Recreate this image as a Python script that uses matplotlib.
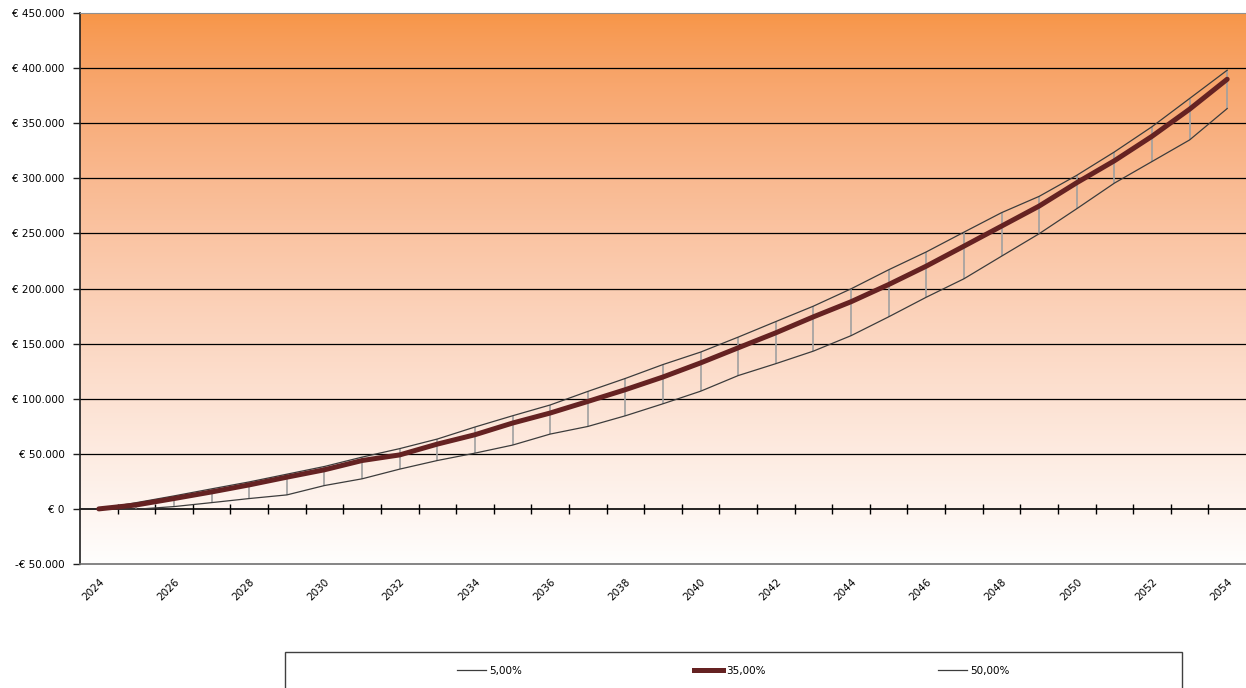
import numpy as np
import matplotlib.pyplot as plt
from matplotlib.lines import Line2D
from matplotlib.patches import Rectangle
from matplotlib.ticker import FuncFormatter

years = list(range(2024, 2055))

# vermogen per scenario (euro)
r05 = [0, -300, 2100, 5700, 9400, 12700, 21200, 27300, 36100, 43900,
       50600, 57900, 67900, 74800, 84500, 95400, 106800, 121000, 131800, 143200,
       157200, 174300, 192100, 208800, 229300, 249700, 272400, 295600, 315200, 334800,
       363300]
r35 = [0, 3600, 9400, 15400, 21800, 28800, 35500, 43900, 49000, 58800,
       67300, 77900, 87000, 97500, 108200, 119700, 132500, 146200, 159800, 174300,
       188000, 203600, 220300, 238400, 256600, 274800, 296000, 315900, 338100, 362700,
       389900]
r50 = [0, 5700, 11800, 18200, 24500, 31500, 38500, 47000, 54700, 63400,
       74300, 84500, 94300, 106600, 118400, 131000, 142300, 155900, 170000, 184000,
       199700, 217000, 233200, 251100, 268800, 283600, 302700, 323900, 346800, 372400,
       398100]
labels = ['5,00%', '35,00%', '50,00%']

plt.rcParams['font.family'] = 'DejaVu Sans'

fig = plt.figure(figsize=(12.46, 6.88), dpi=100)
ax = fig.add_axes([80/1246, 1-564/688, 1-80/1246, (564-13)/688])

n = len(years)
x = np.arange(n)
ymin, ymax = -50000, 450000

# oranje naar wit verloop (blauw loopt iets sneller op -> zalmtint)
t = np.linspace(0, 1, 256)
top = np.array([247, 150, 70]) / 255
bot = np.array([255, 254, 253]) / 255
expo = np.array([1.0, 0.9, 0.75])
grad = top + (bot - top) * t[:, None] ** expo
grad = np.repeat(grad[:, None, :], 2, axis=1)
ax.imshow(grad, extent=(-0.5, n-0.5, ymin, ymax), aspect='auto', zorder=0,
          interpolation='bilinear', origin='upper')

ax.set_xlim(-0.5, n-0.5)
ax.set_ylim(ymin, ymax)

for v in range(50000, 450000, 50000):
    ax.axhline(v, color='black', lw=0.9, zorder=1)

ax.vlines(x[1:], np.array(r05[1:]), np.array(r50[1:]), color='#a0a0a0', lw=1.2, zorder=2)
ax.plot(x, r05, color='#3c3c3c', lw=0.9, zorder=3)
ax.plot(x, r50, color='#3c3c3c', lw=0.9, zorder=3)
ax.plot(x, r35, color='#652222', lw=3.6, solid_capstyle='round', zorder=4)

def euro(v, pos):
    if v == 0:
        return '€ 0'
    s = f'{abs(v):,.0f}'.replace(',', '.')
    return ('-€ ' if v < 0 else '€ ') + s

ax.set_yticks(range(ymin, ymax+1, 50000))
ax.yaxis.set_major_formatter(FuncFormatter(euro))
ax.tick_params(axis='y', length=5, width=1, color='#202020', labelsize=7.5, pad=6)

ax.set_xticks(x[::2])
ax.set_xticklabels([str(y) for y in years[::2]], rotation=45, ha='right',
                   rotation_mode='anchor', fontsize=7.5)
ax.tick_params(axis='x', length=0, pad=9)

ax.spines['left'].set_color('#202020')
ax.spines['left'].set_linewidth(1.2)
ax.spines['top'].set_color('#909090')
ax.spines['bottom'].set_color('#707070')
ax.spines['bottom'].set_linewidth(1.2)
ax.spines['right'].set_visible(False)

# nullijn met maatstreepjes tussen de jaren
zero = ax.secondary_xaxis((0 - ymin) / (ymax - ymin))
zero.set_xticks(x[:-1] + 0.5)
zero.set_xticklabels([])
zero.tick_params(direction='inout', length=7, width=1, color='black')
zero.spines['bottom'].set_color('black')
zero.spines['bottom'].set_linewidth(1.2)

# legenda
fig.patches.append(Rectangle((285/1246, -0.05), 897/1246, (688-652)/688 + 0.05,
                             transform=fig.transFigure, fill=False,
                             edgecolor='#404040', lw=1))
handles = [Line2D([], [], color='#3c3c3c', lw=0.9),
           Line2D([], [], color='#652222', lw=3.6),
           Line2D([], [], color='#3c3c3c', lw=0.9)]
fig.legend(handles, labels, loc='center left', bbox_to_anchor=(457/1246, 1-671/688),
           ncol=3, frameon=False, fontsize=7.5, handlelength=2.8, handletextpad=0.3,
           columnspacing=16.5, borderpad=0, borderaxespad=0)

fig.savefig('out.png', dpi=100)
